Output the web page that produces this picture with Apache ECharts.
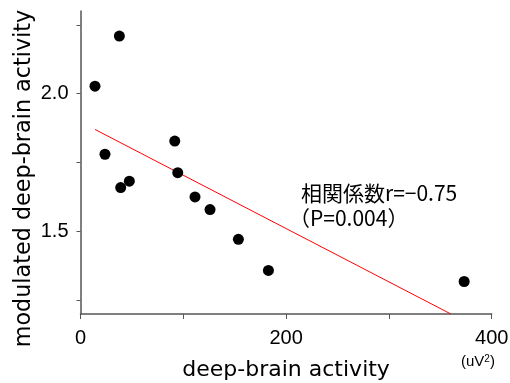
<!DOCTYPE html>
<html lang="ja">
<head>
    <meta charset="UTF-8">
    <title>deep-brain activity</title>
    <script src="https://cdn.jsdelivr.net/npm/echarts@6/dist/echarts.min.js"></script>
    <style>
        html, body { margin: 0; padding: 0; background: #fff; }
        #main { width: 510px; height: 383px; }
    </style>
</head>
<body>
<div id="main"></div>
<script>
    // measured points
    var brainX = [14.1, 37.8, 23.8, 39.1, 47.5, 91.7, 94.6, 111.4, 126.0, 153.6, 182.8, 373.2];
    var modY = [2.027, 2.209, 1.780, 1.659, 1.682, 1.828, 1.713, 1.625, 1.579, 1.471, 1.358, 1.318];
    // regression line ends
    var fitX = [14.1, 360.3];
    var fitY = [1.870, 1.2];
    var xTicks = [0, 100, 200, 300, 400];
    var xLabels = [0, 200, 400];
    var yTicks = [1.25, 1.5, 1.75, 2.0, 2.25];
    var yLabels = [1.5, 2.0];

    var nameFont = '"DejaVu Sans", sans-serif';
    var tickFont = '"Liberation Sans", Arial, sans-serif';
    var jp = '"Noto Sans CJK JP", sans-serif';
    var pts = brainX.map(function (v, i) { return [v, modY[i]]; });
    var fit = fitX.map(function (v, i) { return [v, fitY[i]]; });

    var myChart = echarts.init(document.getElementById('main'));
    var option = {
        animation: false,
        textStyle: { fontFamily: tickFont },
        grid: { left: 80.5, right: 18.3, top: 11, bottom: 69, containLabel: false, outerBoundsMode: 'none' },
        xAxis: {
            type: 'value',
            min: 0,
            max: 400,
            interval: 100,
            splitLine: { show: false },
            axisLine: { lineStyle: { color: '#555', width: 1.5 } },
            axisTick: { customValues: xTicks, length: 5, lineStyle: { color: '#555' } },
            axisLabel: { customValues: xLabels, margin: 14, fontSize: 20, color: '#000', fontFamily: tickFont },
            name: 'deep-brain activity',
            nameLocation: 'middle',
            nameGap: 45,
            nameTextStyle: { fontSize: 22, color: '#000', fontFamily: nameFont }
        },
        yAxis: {
            type: 'value',
            min: 1.2,
            max: 2.3,
            splitLine: { show: false },
            axisLine: { show: true, lineStyle: { color: '#555', width: 1.5 } },
            axisTick: { show: true, customValues: yTicks, length: 4, lineStyle: { color: '#555' } },
            axisLabel: {
                customValues: yLabels, margin: 12, fontSize: 20, color: '#000', fontFamily: tickFont,
                formatter: function (v) { return v.toFixed(1); }
            }
        },
        graphic: [
            {
                type: 'text',
                x: 24, y: 178.5,
                rotation: Math.PI / 2,
                style: {
                    text: 'modulated deep-brain activity',
                    fontSize: 22.3, fill: '#000', fontFamily: nameFont,
                    align: 'center', verticalAlign: 'middle'
                }
            },
            {
                type: 'text',
                left: 301, top: 183,
                style: {
                    text: '相関係数r=−0.75',
                    fontSize: 21, fill: '#000', fontFamily: jp
                }
            },
            {
                type: 'text',
                left: 289, top: 208,
                style: {
                    text: '（P=0.004）',
                    fontSize: 21, fill: '#000', fontFamily: jp
                }
            },
            {
                type: 'text',
                left: 461, top: 354,
                style: {
                    text: '{a|(uV}{s|2}{a|)}',
                    fontFamily: tickFont,
                    rich: {
                        a: { fontSize: 15, fill: '#000', fontFamily: tickFont, verticalAlign: 'bottom' },
                        s: { fontSize: 10, fill: '#000', fontFamily: tickFont, verticalAlign: 'top' }
                    }
                }
            }
        ],
        series: [
            {
                type: 'line',
                data: fit,
                symbol: 'none',
                lineStyle: { color: '#ff0000', width: 1 },
                z: 1
            },
            {
                type: 'scatter',
                data: pts,
                symbolSize: 11,
                itemStyle: { color: '#000', opacity: 1 },
                z: 2
            }
        ]
    };
    myChart.setOption(option);
</script>
</body>
</html>
